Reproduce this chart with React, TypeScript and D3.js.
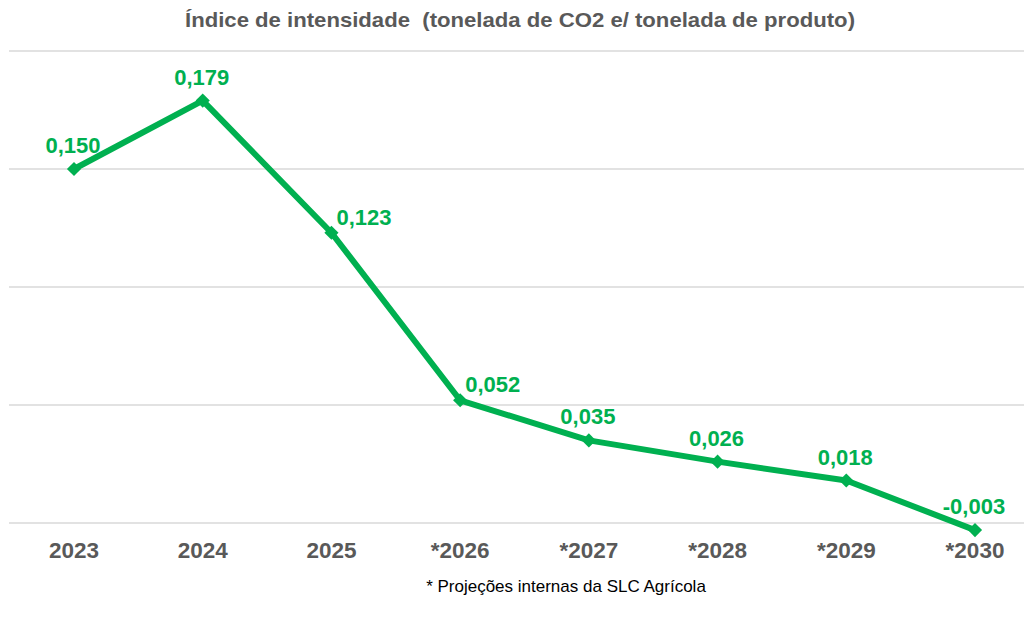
import React from "react";
import * as d3 from "d3";

const categories = ["2023", "2024", "2025", "*2026", "*2027", "*2028", "*2029", "*2030"];
const values = [0.150, 0.179, 0.123, 0.052, 0.035, 0.026, 0.018, -0.003];
const valueLabels = ["0,150", "0,179", "0,123", "0,052", "0,035", "0,026", "0,018", "-0,003"];
const labelPlacement = ["above", "above", "right", "right", "above", "above", "above", "above"];
const gridTicks = [0, 0.05, 0.1, 0.15, 0.2];
const title = "Índice de intensidade  (tonelada de CO2 e/ tonelada de produto)";
const footnote = "* Projeções internas da SLC Agrícola";

const W = 1024;
const H = 639;
const GREEN = "#00B050";
const GRAY = "#595959";

export default function App() {
  const x = d3.scalePoint<string>().domain(categories).range([74, 975]);
  const y = d3.scaleLinear().domain([0, 0.2]).range([523, 51]);
  const line = d3
    .line<number>()
    .x((_, i) => x(categories[i]) as number)
    .y((d) => y(d));
  const marker = d3.symbol().type(d3.symbolSquare).size(100)() as string;

  return (
    <svg
      width={W}
      height={H}
      style={{ position: "absolute", left: 0, top: 0, background: "#fff" }}
      fontFamily="Liberation Sans, Arial, sans-serif"
    >
      <rect width={W} height={H} fill="#fff" />
      <text
        x={520}
        y={27}
        textAnchor="middle"
        fontWeight="bold"
        fontSize={21}
        fill={GRAY}
        textLength={670}
        lengthAdjust="spacingAndGlyphs"
        xmlSpace="preserve"
      >
        {title}
      </text>
      {gridTicks.map((t) => (
        <line key={t} x1={9} x2={W} y1={y(t)} y2={y(t)} stroke="#d9d9d9" strokeWidth={1.3} />
      ))}
      <path d={line(values) as string} fill="none" stroke={GREEN} strokeWidth={6} strokeLinejoin="round" />
      {values.map((v, i) => (
        <path
          key={i}
          d={marker}
          transform={`translate(${x(categories[i])},${y(v)}) rotate(45)`}
          fill={GREEN}
        />
      ))}
      {values.map((v, i) => {
        const cx = x(categories[i]) as number;
        const cy = y(v);
        const right = labelPlacement[i] === "right";
        return (
          <text
            key={i}
            x={right ? cx + 5 : cx - 1}
            y={right ? cy - 8 : cy - 16}
            textAnchor={right ? "start" : "middle"}
            fontWeight="bold"
            fontSize={22}
            fill={GREEN}
          >
            {valueLabels[i]}
          </text>
        );
      })}
      {categories.map((c) => (
        <text
          key={c}
          x={x(c) as number}
          y={558}
          textAnchor="middle"
          fontWeight="bold"
          fontSize={22.5}
          fill={GRAY}
        >
          {c}
        </text>
      ))}
      <text x={566} y={592} textAnchor="middle" fontSize={17} fill="#000">
        {footnote}
      </text>
    </svg>
  );
}
